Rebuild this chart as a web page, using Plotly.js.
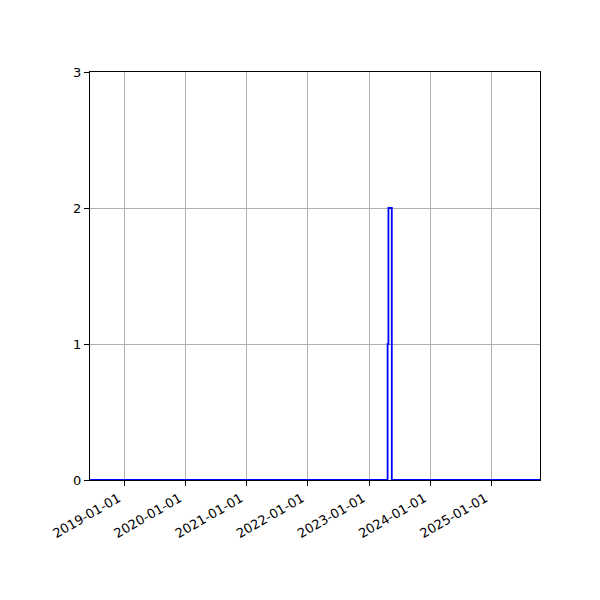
<!DOCTYPE html>
<html>
<head>
<meta charset="utf-8">
<script src="https://cdn.plot.ly/plotly-3.0.1.min.js"></script>
<style>
  html, body { margin: 0; padding: 0; background: #ffffff; }
  #chart { width: 600px; height: 600px; }
</style>
</head>
<body>
<div id="chart"></div>
<script>
  // step series
  const dates = ['2018-06-10', '2023-04-22', '2023-04-27', '2023-05-17', '2025-10-18'];
  const counts = [0, 1, 2, 0, 0];

  const xRange = ['2018-06-10', '2025-10-18'];
  const yRange = [0, 3];
  const yTicks = [0, 1, 2, 3];
  const xTicks = ['2019-01-01', '2020-01-01', '2021-01-01', '2022-01-01', '2023-01-01', '2024-01-01', '2025-01-01'];

  const trace = {
    x: dates,
    y: counts,
    type: 'scatter',
    mode: 'lines',
    line: { color: '#0000ff', width: 1.8, shape: 'hv' },
    hoverinfo: 'x+y'
  };

  const axisStyle = {
    showline: true,
    linecolor: '#000000',
    linewidth: 1,
    mirror: true,
    ticks: 'outside',
    ticklen: 5,
    tickwidth: 1,
    tickcolor: '#000000',
    showgrid: true,
    gridcolor: '#b0b0b0',
    gridwidth: 1,
    zeroline: false,
    tickfont: { family: 'DejaVu Sans, sans-serif', size: 13, color: '#000000' }
  };

  const layout = {
    width: 600,
    height: 600,
    paper_bgcolor: '#ffffff',
    plot_bgcolor: '#ffffff',
    margin: { l: 90, r: 60, t: 72, b: 120 },
    showlegend: false,
    xaxis: Object.assign({}, axisStyle, {
      type: 'date',
      range: xRange,
      tickvals: xTicks,
      ticktext: xTicks,
      tickangle: -30,
      ticklabelshift: -6
    }),
    yaxis: Object.assign({}, axisStyle, {
      range: yRange,
      tickvals: yTicks,
      ticktext: yTicks.map(String)
    })
  };

  Plotly.newPlot('chart', [trace], layout, { displayModeBar: false, staticPlot: true });
</script>
</body>
</html>
